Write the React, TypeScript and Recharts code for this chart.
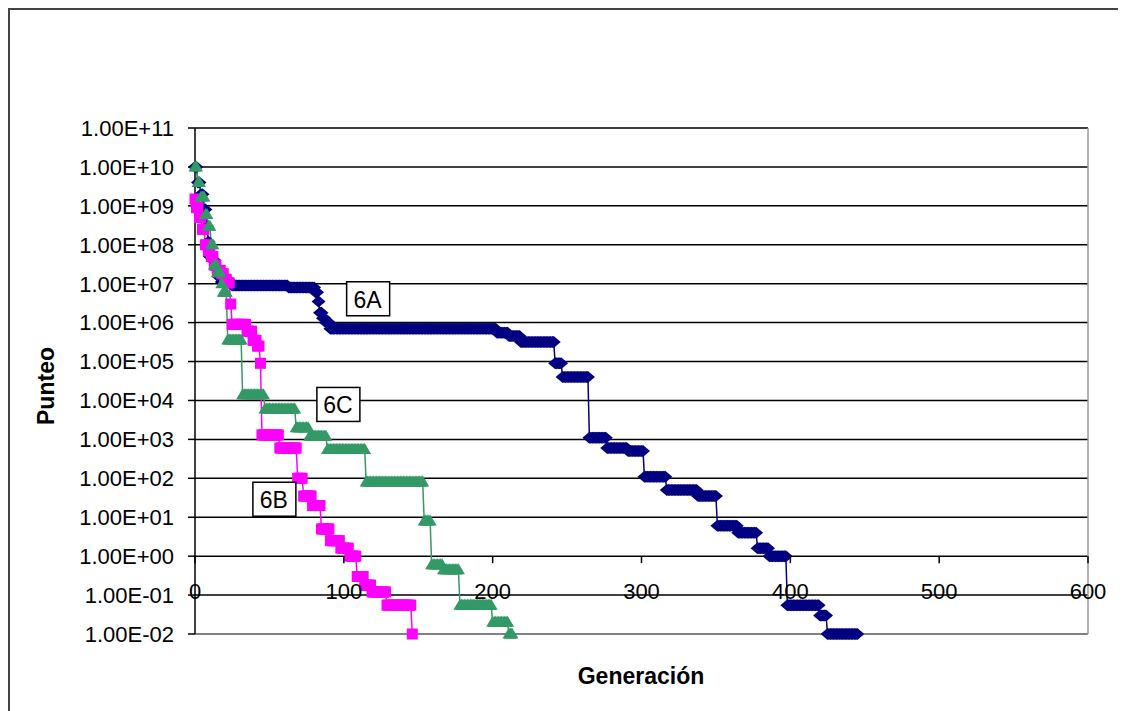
import React from 'react';
import { CartesianGrid, Line, LineChart, ReferenceDot, ReferenceLine, XAxis, YAxis } from 'recharts';

// runs: [first generation, last generation, punteo]
const RUNS_6A: [number, number, number][] = [
  [0, 1, 1e10], [2, 3, 4e9], [4, 5, 2e9], [6, 7, 8e8], [8, 8, 3e8], [9, 9, 1.2e8],
  [10, 11, 5e7], [12, 13, 4e7], [14, 15, 2.5e7], [16, 17, 1.5e7], [18, 24, 1.1e7],
  [25, 62, 9e6], [63, 80, 8e6], [81, 82, 6e6], [83, 83, 3.5e6], [84, 85, 1.8e6],
  [86, 87, 1.3e6], [88, 90, 1e6], [91, 202, 7e5], [203, 210, 5.5e5], [211, 218, 4.5e5],
  [219, 241, 3.2e5], [242, 246, 9e4], [247, 264, 4e4], [265, 276, 1.1e3], [277, 290, 6e2],
  [291, 301, 5e2], [302, 316, 1.1e2], [317, 337, 5e1], [338, 350, 3.5e1], [351, 364, 6],
  [365, 377, 4], [378, 385, 1.6], [386, 397, 1], [398, 419, 0.055], [420, 424, 0.03],
  [425, 445, 0.01],
];

const RUNS_6B: [number, number, number][] = [
  [0, 0, 1.5e9], [1, 2, 9e8], [3, 4, 5e8], [5, 6, 2.5e8], [7, 8, 1e8], [9, 10, 7e7],
  [11, 12, 5e7], [13, 14, 3e7], [15, 17, 2.2e7], [18, 19, 1.8e7], [20, 21, 1.3e7],
  [22, 23, 1.05e7], [24, 24, 3e6], [25, 34, 9e5], [35, 38, 6e5], [39, 41, 3.5e5],
  [42, 43, 2.5e5], [44, 44, 9e4], [45, 56, 1.3e3], [57, 68, 6e2], [69, 72, 1e2],
  [73, 78, 3.5e1], [79, 84, 2e1], [85, 90, 5], [91, 97, 2.5], [98, 103, 1.6],
  [104, 108, 1], [109, 113, 0.3], [114, 118, 0.18], [119, 128, 0.12], [129, 145, 0.055],
  [146, 146, 0.01],
];

const RUNS_6C: [number, number, number][] = [
  [0, 1, 1e10], [2, 3, 4e9], [4, 6, 1.7e9], [7, 8, 6e8], [9, 10, 3e8], [11, 12, 1e8],
  [13, 14, 3e7], [15, 17, 1.9e7], [18, 18, 1e7], [19, 21, 6e6], [22, 31, 3.6e5],
  [32, 46, 1.4e4], [47, 67, 6e3], [68, 76, 2e3], [77, 88, 1.2e3], [89, 114, 5.5e2],
  [115, 153, 8e1], [154, 158, 8], [159, 166, 0.6], [167, 177, 0.45], [178, 199, 0.055],
  [200, 210, 0.02], [211, 213, 0.01],
];

const X_TICKS = [0, 100, 200, 300, 400, 500, 600];
const Y_TICKS = [1e-2, 1e-1, 1, 1e1, 1e2, 1e3, 1e4, 1e5, 1e6, 1e7, 1e8, 1e9, 1e10, 1e11];

// series label boxes: [text, generation, punteo]
const LABELS: [string, number, number][] = [
  ['6A', 116, 4.1e6],
  ['6C', 96, 7.9e3],
  ['6B', 53, 29],
];

const expand = (runs: [number, number, number][]) => {
  const out: { gen: number; v: number }[] = [];
  runs.forEach(([a, b, v]) => {
    for (let g = a; g <= b; g++) out.push({ gen: g, v });
  });
  return out;
};

const data6A = expand(RUNS_6A);
const data6B = expand(RUNS_6B);
const data6C = expand(RUNS_6C);

const W = 1114;
const H = 705;
const TOP = 118;
const PLOT_BOTTOM = 624;
const FONT = "Arial, 'Liberation Sans', sans-serif";

const fmtY = (v: number) => {
  const e = Math.round(Math.log10(v));
  return '1.00E' + (e < 0 ? '-' : '+') + String(Math.abs(e)).padStart(2, '0');
};

// x axis crosses the value axis at 1, like Excel does on a log axis
const yOfOne = TOP + (11 / 13) * (PLOT_BOTTOM - TOP);

const XTick = (props: any) => {
  const { x, payload } = props;
  return (
    <g>
      <line x1={x} x2={x} y1={yOfOne} y2={yOfOne + 7} stroke="#000" strokeWidth={1.5} />
      <text x={x} y={yOfOne + 35} textAnchor="middle" dominantBaseline="central" fontSize={22} fill="#000" fontFamily={FONT}>
        {payload.value}
      </text>
    </g>
  );
};

const Diamond = (p: any) =>
  p.cx == null ? <g key={p.key} /> : (
    <polygon key={p.key} points={`${p.cx},${p.cy - 6} ${p.cx + 7},${p.cy} ${p.cx},${p.cy + 6} ${p.cx - 7},${p.cy}`} fill="#000080" />
  );
const Square = (p: any) =>
  p.cx == null ? <g key={p.key} /> : <rect key={p.key} x={p.cx - 5.5} y={p.cy - 5.5} width={11} height={11} fill="#FF00FF" />;
const Triangle = (p: any) =>
  p.cx == null ? <g key={p.key} /> : (
    <polygon key={p.key} points={`${p.cx},${p.cy - 6.5} ${p.cx + 6.5},${p.cy + 4.5} ${p.cx - 6.5},${p.cy + 4.5}`} fill="#339966" />
  );

const BoxLabel = (text: string) => (p: any) => (
  <g>
    <rect x={p.cx - 21} y={p.cy - 17} width={43} height={34} fill="#fff" stroke="#000" strokeWidth={1.5} />
    <text x={p.cx} y={p.cy + 1} textAnchor="middle" dominantBaseline="central" fontSize={23} fontFamily={FONT} fill="#000">
      {text}
    </text>
  </g>
);

const App: React.FC = () => {
  return (
    <div
      style={{
        width: W,
        height: H,
        borderTop: '2px solid #444',
        borderLeft: '2px solid #444',
        borderRight: '1px solid #aaa',
        background: '#fff',
        fontFamily: FONT,
      }}
    >
      <LineChart width={W} height={H} margin={{ top: TOP, right: 36, bottom: 41, left: 0 }}>
        <CartesianGrid vertical={false} stroke="#000" strokeWidth={1.5} />
        <XAxis
          type="number"
          dataKey="gen"
          domain={[0, 600]}
          ticks={X_TICKS}
          axisLine={false}
          tickLine={false}
          height={40}
          tick={<XTick />}
          label={{
            position: 'bottom',
            content: () => (
              <text x={631} y={666} textAnchor="middle" dominantBaseline="central" fontSize={23} fontWeight="bold" fontFamily={FONT} fill="#000">
                Generación
              </text>
            ),
          }}
        />
        <YAxis
          type="number"
          scale="log"
          domain={[0.01, 1e11]}
          ticks={Y_TICKS}
          width={185}
          tickSize={7}
          tickMargin={14}
          tickFormatter={fmtY}
          axisLine={{ stroke: '#000', strokeWidth: 1.5 }}
          tickLine={{ stroke: '#000', strokeWidth: 1.5 }}
          tick={{ fontSize: 22, fill: '#000', fontFamily: FONT }}
          label={{
            position: 'left',
            content: () => (
              <text x={36} y={376} transform="rotate(-90 36 376)" textAnchor="middle" dominantBaseline="central" fontSize={23} fontWeight="bold" fontFamily={FONT} fill="#000">
                Punteo
              </text>
            ),
          }}
        />
        <ReferenceLine x={600} stroke="#999" strokeWidth={1.5} />
        <ReferenceLine y={0.01} stroke="#999" strokeWidth={1.5} />
        <Line data={data6A} dataKey="v" stroke="#000080" strokeWidth={1.5} dot={Diamond} activeDot={false} isAnimationActive={false} />
        <Line data={data6B} dataKey="v" stroke="#FF00FF" strokeWidth={1.5} dot={Square} activeDot={false} isAnimationActive={false} />
        <Line data={data6C} dataKey="v" stroke="#339966" strokeWidth={1.5} dot={Triangle} activeDot={false} isAnimationActive={false} />
        {LABELS.map(([t, g, v]) => (
          <ReferenceDot key={t} x={g} y={v} r={0} shape={BoxLabel(t)} />
        ))}
      </LineChart>
    </div>
  );
};

export default App;
